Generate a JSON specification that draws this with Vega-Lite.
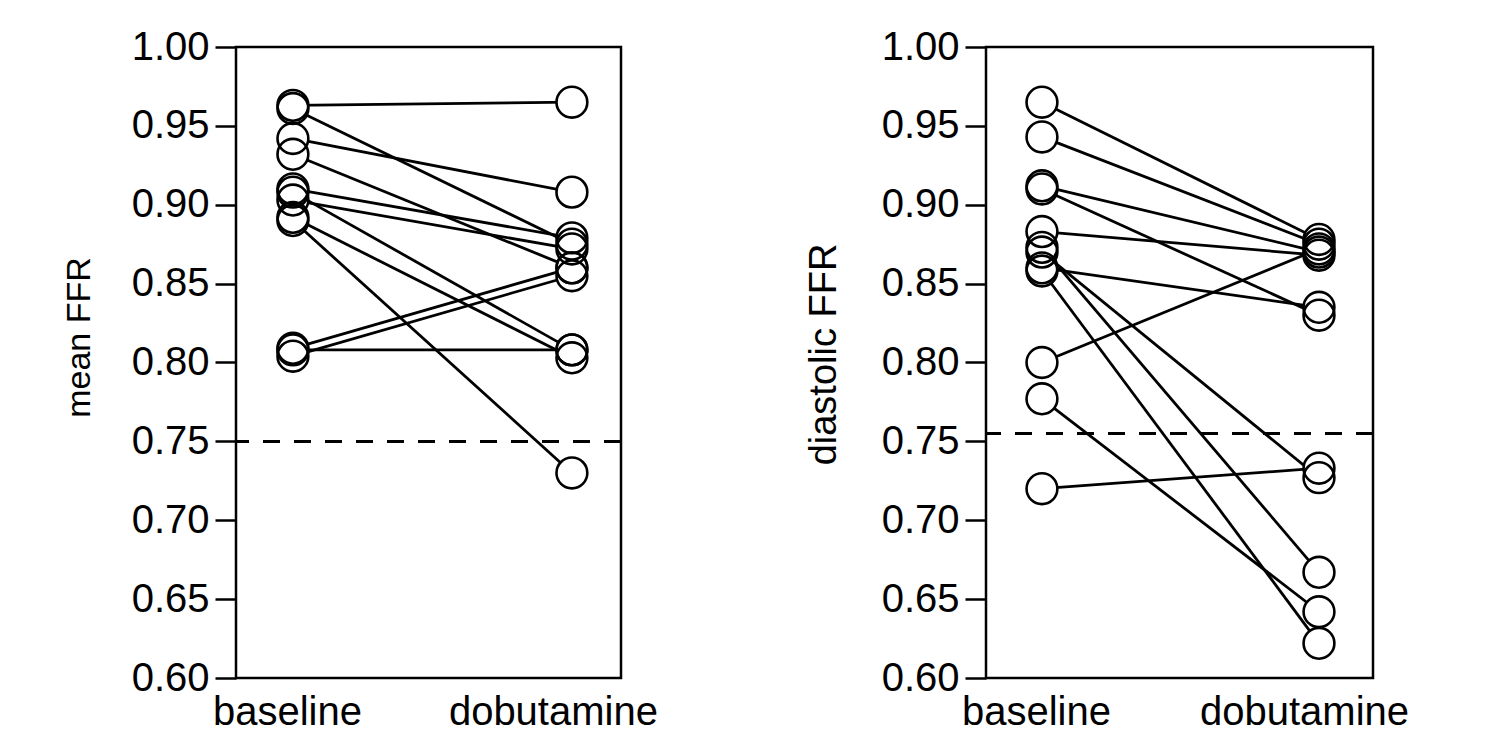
{
  "$schema": "https://vega.github.io/schema/vega-lite/v6.json",
  "background": "white",
  "padding": {"left": 60, "top": 25, "right": 0, "bottom": 0},
  "config": {
    "font": "Liberation Sans",
    "view": {"stroke": "black", "strokeWidth": 2.5},
    "axis": {"labelColor": "black", "titleColor": "black", "labelFont": "Liberation Sans", "titleFont": "Liberation Sans", "titleFontWeight": "normal", "grid": false, "labelLimit": 0}
  },
  "datasets": {
    "ffr": [
      {"panel": "mean", "patient": 1, "cond": 0, "ffr": 0.963}, {"panel": "mean", "patient": 1, "cond": 1, "ffr": 0.965},
      {"panel": "mean", "patient": 2, "cond": 0, "ffr": 0.961}, {"panel": "mean", "patient": 2, "cond": 1, "ffr": 0.875},
      {"panel": "mean", "patient": 3, "cond": 0, "ffr": 0.942}, {"panel": "mean", "patient": 3, "cond": 1, "ffr": 0.908},
      {"panel": "mean", "patient": 4, "cond": 0, "ffr": 0.932}, {"panel": "mean", "patient": 4, "cond": 1, "ffr": 0.860},
      {"panel": "mean", "patient": 5, "cond": 0, "ffr": 0.910}, {"panel": "mean", "patient": 5, "cond": 1, "ffr": 0.879},
      {"panel": "mean", "patient": 6, "cond": 0, "ffr": 0.908}, {"panel": "mean", "patient": 6, "cond": 1, "ffr": 0.808},
      {"panel": "mean", "patient": 7, "cond": 0, "ffr": 0.903}, {"panel": "mean", "patient": 7, "cond": 1, "ffr": 0.872},
      {"panel": "mean", "patient": 8, "cond": 0, "ffr": 0.892}, {"panel": "mean", "patient": 8, "cond": 1, "ffr": 0.803},
      {"panel": "mean", "patient": 9, "cond": 0, "ffr": 0.890}, {"panel": "mean", "patient": 9, "cond": 1, "ffr": 0.730},
      {"panel": "mean", "patient": 10, "cond": 0, "ffr": 0.809}, {"panel": "mean", "patient": 10, "cond": 1, "ffr": 0.860},
      {"panel": "mean", "patient": 11, "cond": 0, "ffr": 0.804}, {"panel": "mean", "patient": 11, "cond": 1, "ffr": 0.855},
      {"panel": "mean", "patient": 12, "cond": 0, "ffr": 0.808}, {"panel": "mean", "patient": 12, "cond": 1, "ffr": 0.808},
      {"panel": "diastolic", "patient": 1, "cond": 0, "ffr": 0.965}, {"panel": "diastolic", "patient": 1, "cond": 1, "ffr": 0.878},
      {"panel": "diastolic", "patient": 2, "cond": 0, "ffr": 0.943}, {"panel": "diastolic", "patient": 2, "cond": 1, "ffr": 0.875},
      {"panel": "diastolic", "patient": 3, "cond": 0, "ffr": 0.912}, {"panel": "diastolic", "patient": 3, "cond": 1, "ffr": 0.870},
      {"panel": "diastolic", "patient": 4, "cond": 0, "ffr": 0.910}, {"panel": "diastolic", "patient": 4, "cond": 1, "ffr": 0.830},
      {"panel": "diastolic", "patient": 5, "cond": 0, "ffr": 0.883}, {"panel": "diastolic", "patient": 5, "cond": 1, "ffr": 0.868},
      {"panel": "diastolic", "patient": 6, "cond": 0, "ffr": 0.873}, {"panel": "diastolic", "patient": 6, "cond": 1, "ffr": 0.667},
      {"panel": "diastolic", "patient": 7, "cond": 0, "ffr": 0.870}, {"panel": "diastolic", "patient": 7, "cond": 1, "ffr": 0.727},
      {"panel": "diastolic", "patient": 8, "cond": 0, "ffr": 0.860}, {"panel": "diastolic", "patient": 8, "cond": 1, "ffr": 0.835},
      {"panel": "diastolic", "patient": 9, "cond": 0, "ffr": 0.858}, {"panel": "diastolic", "patient": 9, "cond": 1, "ffr": 0.622},
      {"panel": "diastolic", "patient": 10, "cond": 0, "ffr": 0.800}, {"panel": "diastolic", "patient": 10, "cond": 1, "ffr": 0.872},
      {"panel": "diastolic", "patient": 11, "cond": 0, "ffr": 0.777}, {"panel": "diastolic", "patient": 11, "cond": 1, "ffr": 0.642},
      {"panel": "diastolic", "patient": 12, "cond": 0, "ffr": 0.720}, {"panel": "diastolic", "patient": 12, "cond": 1, "ffr": 0.733}
    ],
    "thresholds": [
      {"panel": "mean", "cutoff": 0.75},
      {"panel": "diastolic", "cutoff": 0.755}
    ]
  },
  "spacing": 144,
  "hconcat": [
    {
      "width": 385,
      "height": 631,
      "layer": [
        {"data": {"name": "ffr"}, "transform": [{"filter": "datum.panel == 'mean'"}],
         "mark": {"type": "line", "color": "black", "strokeWidth": 2.8},
         "encoding": {
           "x": {"field": "cond", "type": "quantitative", "scale": {"domain": [-0.204, 1.176], "nice": false, "zero": false},
                 "axis": {"values": [0, 1], "labelExpr": "datum.value == 0 ? 'baseline' : 'dobutamine'", "ticks": false, "domain": false, "title": null, "labelFontSize": 40, "labelPadding": 14, "labelOffset": {"condition": {"test": "datum.value == 0", "value": -6}, "value": -19}}},
           "y": {"field": "ffr", "type": "quantitative", "scale": {"domain": [0.6, 1.0], "nice": false, "zero": false},
                 "axis": {"values": [0.6, 0.65, 0.7, 0.75, 0.8, 0.85, 0.9, 0.95, 1.0], "format": ".2f", "title": "mean FFR", "titleFontSize": 34, "titlePadding": 35, "titleY": 290, "labelFontSize": 40, "labelPadding": 6, "tickSize": 21, "tickWidth": 2.5, "tickColor": "black", "domain": false}},
           "detail": {"field": "patient"}
         }},
        {"data": {"name": "thresholds"}, "transform": [{"filter": "datum.panel == 'mean'"}],
         "mark": {"type": "rule", "color": "black", "strokeWidth": 3, "strokeDash": [17, 14]},
         "encoding": {"y": {"field": "cutoff", "type": "quantitative"}}},
        {"data": {"name": "ffr"}, "transform": [{"filter": "datum.panel == 'mean'"}],
         "mark": {"type": "point", "shape": "circle", "filled": true, "color": "white", "opacity": 1, "size": 950},
         "encoding": {"x": {"field": "cond", "type": "quantitative"}, "y": {"field": "ffr", "type": "quantitative"}}},
        {"data": {"name": "ffr"}, "transform": [{"filter": "datum.panel == 'mean'"}],
         "mark": {"type": "point", "shape": "circle", "filled": false, "stroke": "black", "strokeWidth": 2.6, "opacity": 1, "size": 950},
         "encoding": {"x": {"field": "cond", "type": "quantitative"}, "y": {"field": "ffr", "type": "quantitative"}}}
      ]
    },
    {
      "width": 387,
      "height": 631,
      "layer": [
        {"data": {"name": "ffr"}, "transform": [{"filter": "datum.panel == 'diastolic'"}],
         "mark": {"type": "line", "color": "black", "strokeWidth": 2.8},
         "encoding": {
           "x": {"field": "cond", "type": "quantitative", "scale": {"domain": [-0.202, 1.195], "nice": false, "zero": false},
                 "axis": {"values": [0, 1], "labelExpr": "datum.value == 0 ? 'baseline' : 'dobutamine'", "ticks": false, "domain": false, "title": null, "labelFontSize": 40, "labelPadding": 14, "labelOffset": {"condition": {"test": "datum.value == 0", "value": -6}, "value": -15}}},
           "y": {"field": "ffr", "type": "quantitative", "scale": {"domain": [0.6, 1.0], "nice": false, "zero": false},
                 "axis": {"values": [0.6, 0.65, 0.7, 0.75, 0.8, 0.85, 0.9, 0.95, 1.0], "format": ".2f", "title": "diastolic FFR", "titleFontSize": 38, "titlePadding": 38, "titleY": 307, "labelFontSize": 40, "labelPadding": 6, "tickSize": 21, "tickWidth": 2.5, "tickColor": "black", "domain": false}},
           "detail": {"field": "patient"}
         }},
        {"data": {"name": "thresholds"}, "transform": [{"filter": "datum.panel == 'diastolic'"}],
         "mark": {"type": "rule", "color": "black", "strokeWidth": 3, "strokeDash": [17, 14]},
         "encoding": {"y": {"field": "cutoff", "type": "quantitative"}}},
        {"data": {"name": "ffr"}, "transform": [{"filter": "datum.panel == 'diastolic'"}],
         "mark": {"type": "point", "shape": "circle", "filled": true, "color": "white", "opacity": 1, "size": 950},
         "encoding": {"x": {"field": "cond", "type": "quantitative"}, "y": {"field": "ffr", "type": "quantitative"}}},
        {"data": {"name": "ffr"}, "transform": [{"filter": "datum.panel == 'diastolic'"}],
         "mark": {"type": "point", "shape": "circle", "filled": false, "stroke": "black", "strokeWidth": 2.6, "opacity": 1, "size": 950},
         "encoding": {"x": {"field": "cond", "type": "quantitative"}, "y": {"field": "ffr", "type": "quantitative"}}}
      ]
    }
  ]
}
